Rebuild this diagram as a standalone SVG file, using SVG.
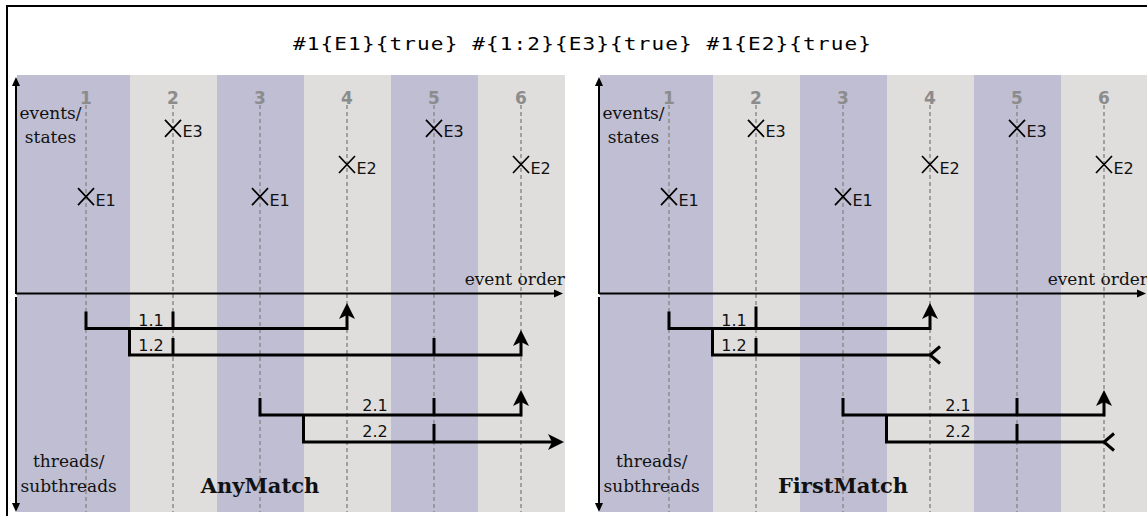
<svg xmlns="http://www.w3.org/2000/svg" width="1147" height="516" viewBox="0 0 1147 516">
<style>
.border{fill:none;stroke:#000;stroke-width:2}
.title{font-family:"DejaVu Sans Mono",monospace;font-size:18px;fill:#000}
.sA{fill:#bfbed3}
.sB{fill:#dfdedd}
.grid{stroke:#8c8c8c;stroke-width:1.5;stroke-dasharray:4 3;fill:none}
.num{font-family:"DejaVu Sans",sans-serif;font-weight:bold;font-size:17px;fill:#8c8c8c;text-anchor:middle}
.axis{stroke:#000;stroke-width:2;fill:none}
.lbl{font-family:"DejaVu Serif",serif;font-size:17px;fill:#111}
.mid{text-anchor:middle}
.end{text-anchor:end}
.mode{font-family:"DejaVu Serif",serif;font-size:21px;font-weight:bold;fill:#111;text-anchor:middle}
.cross{stroke:#000;stroke-width:1.7;fill:none}
.ev{font-family:"DejaVu Sans",sans-serif;font-size:16px;fill:#111}
.thr{stroke:#000;stroke-width:3;fill:none}
.tid{font-family:"DejaVu Sans",sans-serif;font-size:16px;fill:#111;text-anchor:middle}
.go{marker-end:url(#threadHead)}
.stop{marker-end:url(#stopHead)}
.ax{marker-end:url(#axisHead)}
</style>
<defs>
  <marker id="axisHead" markerUnits="userSpaceOnUse" viewBox="0 -5 10 10" markerWidth="10" markerHeight="10" refX="1" refY="0" orient="auto" overflow="visible">
    <path d="M0,-4 L9,0 L0,4 Z" fill="#000"/>
  </marker>
  <marker id="threadHead" markerUnits="userSpaceOnUse" viewBox="0 -9 17 18" markerWidth="17" markerHeight="18" refX="4" refY="0" orient="auto" overflow="visible">
    <path d="M16,0 L0,-8 L4,0 L0,8 Z" fill="#000"/>
  </marker>
  <marker id="stopHead" markerUnits="userSpaceOnUse" viewBox="-2 -11 14 22" markerWidth="14" markerHeight="22" refX="0" refY="0" orient="auto" overflow="visible">
    <path d="M10,-8.5 L0,0 L10,8.5" fill="none" stroke="#000" stroke-width="3"/>
  </marker>
  <path id="x" class="cross" d="M-8,-8.5 L8,8.5 M-8,8.5 L8,-8.5"/>
  <!-- shared background of one panel: stripes, column guides and numbers -->
  <g id="lanes">
    <rect class="sA" x="17" y="75" width="113" height="437"/>
    <rect class="sB" x="130" y="75" width="87" height="437"/>
    <rect class="sA" x="217" y="75" width="87" height="437"/>
    <rect class="sB" x="304" y="75" width="87" height="437"/>
    <rect class="sA" x="391" y="75" width="87" height="437"/>
    <rect class="sB" x="478" y="75" width="87" height="437"/>
    <path class="grid" d="M86,105 V512 M173,105 V512 M260,105 V512 M347,105 V512 M434,105 V512 M521,105 V512"/>
    <text class="num" x="86" y="103.5">1</text>
    <text class="num" x="173" y="103.5">2</text>
    <text class="num" x="260" y="103.5">3</text>
    <text class="num" x="347" y="103.5">4</text>
    <text class="num" x="434" y="103.5">5</text>
    <text class="num" x="521" y="103.5">6</text>
  </g>
  <!-- event marks shared by both panels -->
  <g id="events">
    <g id="ev1"><use href="#x" x="86" y="196.7"/><text class="ev" x="95.5" y="205.7">E1</text></g>
    <g id="ev2"><use href="#x" x="173" y="128.3"/><text class="ev" x="182.5" y="137.3">E3</text></g>
    <g id="ev3"><use href="#x" x="260" y="196.7"/><text class="ev" x="269.5" y="205.7">E1</text></g>
    <g id="ev4"><use href="#x" x="347" y="164.5"/><text class="ev" x="356.5" y="173.5">E2</text></g>
    <g id="ev5"><use href="#x" x="434" y="128.3"/><text class="ev" x="443.5" y="137.3">E3</text></g>
    <g id="ev6"><use href="#x" x="521" y="164.5"/><text class="ev" x="530.5" y="173.5">E2</text></g>
  </g>
  <!-- axes and axis captions -->
  <g id="axes">
    <path class="axis ax" d="M16,294 V85"/>
    <path class="axis ax" d="M16,297 V504"/>
    <path class="axis ax" d="M16,293.5 H555"/>
    <text class="lbl mid" x="50.5" y="119.3">events/</text>
    <text class="lbl mid" x="50.5" y="143.3">states</text>
    <text class="lbl end" x="565" y="285">event order</text>
    <text class="lbl mid" x="68.7" y="466.7">threads/</text>
    <text class="lbl mid" x="68.7" y="491.7">subthreads</text>
  </g>
</defs>

<rect width="1147" height="516" fill="#fff"/>
<rect class="border" x="7" y="6" width="1160" height="530"/>
<g id="query" transform="scale(1.17,1)">
  <text class="title" x="250.4" y="50" textLength="494" lengthAdjust="spacing">#1{E1}{true} #{1:2}{E3}{true} #1{E2}{true}</text>
</g>

<!-- AnyMatch panel -->
<g id="anyMatch">
  <use href="#lanes"/>
  <use href="#events"/>
  <use href="#axes"/>
  <g id="any-connectors">
    <path class="thr go" d="M86,311.5 V328.5 H347 V315"/>
    <path class="thr" d="M173,311.5 V328.5"/>
    <path class="thr go" d="M129.5,328.5 V355 H521 V342"/>
    <path class="thr" d="M173,338 V355 M434,338 V355"/>
    <path class="thr go" d="M260,398 V415 H521 V402"/>
    <path class="thr" d="M434,398 V415"/>
    <path class="thr go" d="M303.5,415 V442 H552"/>
    <path class="thr" d="M434,424 V442"/>
  </g>
  <g id="any-t11"><text class="tid" x="151" y="325.5">1.1</text></g>
  <g id="any-t12"><text class="tid" x="151" y="350.7">1.2</text></g>
  <g id="any-t21"><text class="tid" x="375" y="410.7">2.1</text></g>
  <g id="any-t22"><text class="tid" x="375" y="436.7">2.2</text></g>
  <text class="mode" x="260" y="493.3">AnyMatch</text>
</g>

<!-- FirstMatch panel -->
<g id="firstMatch" transform="translate(583,0)">
  <use href="#lanes"/>
  <use href="#events"/>
  <use href="#axes"/>
  <g id="first-connectors">
    <path class="thr go" d="M86,311.5 V328.5 H347 V315"/>
    <path class="thr" d="M173,306.5 V328.5"/>
    <path class="thr stop" d="M129.5,328.5 V355 H347"/>
    <path class="thr" d="M173,338 V355"/>
    <path class="thr go" d="M260,398 V415 H521 V402"/>
    <path class="thr" d="M434,398 V415"/>
    <path class="thr stop" d="M303.5,415 V442 H521"/>
    <path class="thr" d="M434,424 V442"/>
  </g>
  <g id="first-t11"><text class="tid" x="151" y="325.5">1.1</text></g>
  <g id="first-t12"><text class="tid" x="151" y="350.7">1.2</text></g>
  <g id="first-t21"><text class="tid" x="375" y="410.7">2.1</text></g>
  <g id="first-t22"><text class="tid" x="375" y="436.7">2.2</text></g>
  <text class="mode" x="260" y="493.3">FirstMatch</text>
</g>
</svg>
